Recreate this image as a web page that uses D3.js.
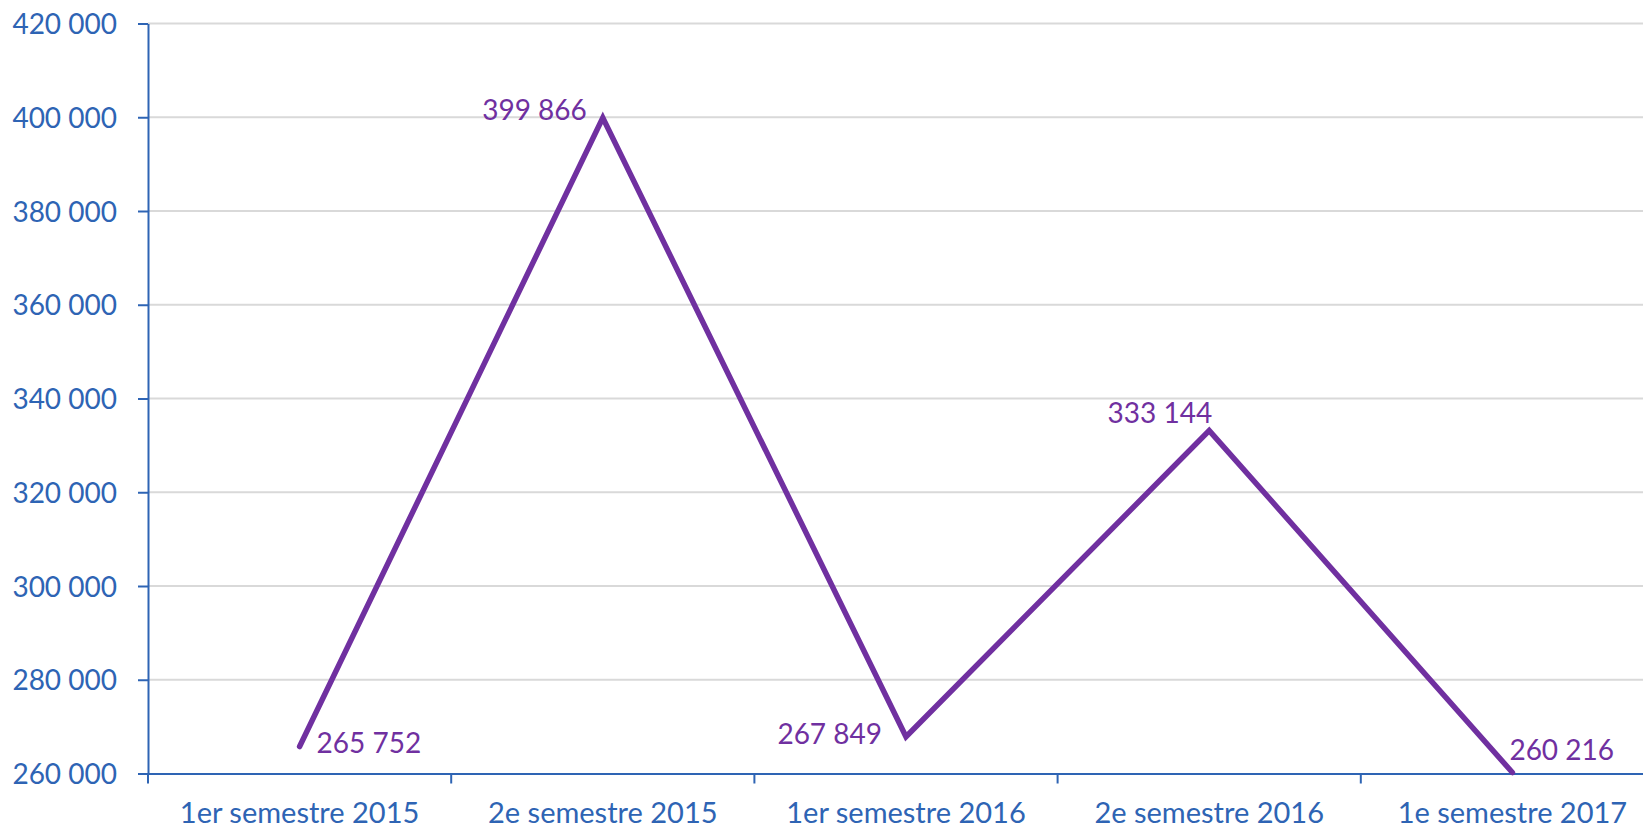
<!DOCTYPE html>
<html>
<head>
<meta charset="utf-8">
<script src="https://cdn.jsdelivr.net/npm/d3@7"></script>
<style>
  html, body { margin: 0; padding: 0; background: #fff; overflow: hidden; }
  svg { display: block; }
  text { font-family: Lato, "Open Sans", sans-serif; }
</style>
</head>
<body>
<svg id="chart" width="1643" height="827"></svg>
<script>
const categories = ["1er semestre 2015", "2e semestre 2015", "1er semestre 2016", "2e semestre 2016", "1e semestre 2017"];
const values = [265752, 399866, 267849, 333144, 260216];
const yTicks = [260000, 280000, 300000, 320000, 340000, 360000, 380000, 400000, 420000];

const svg = d3.select("#chart");
const mLeft = 148, mRight = 1664, mTop = 23.5, mBottom = 773.5;
const blue = "#2E64B4", purple = "#7030A0", grid = "#D9D9D9";
const fs = 28;

const x = d3.scaleBand().domain(categories).range([mLeft, mRight]).padding(0);
const y = d3.scaleLinear().domain([yTicks[0], yTicks[yTicks.length - 1]]).range([mBottom, mTop]);
const fmt = d => d3.format(",")(d).replace(/,/g, " ");

// gridlines
svg.append("g").selectAll("line").data(yTicks.slice(1)).join("line")
  .attr("x1", mLeft).attr("x2", mRight)
  .attr("y1", d => y(d)).attr("y2", d => y(d))
  .attr("stroke", grid).attr("stroke-width", 2);

// y axis
const ya = svg.append("g").attr("transform", `translate(${mLeft},0)`)
  .call(d3.axisLeft(y).tickValues(yTicks).tickFormat(fmt).tickSize(10).tickPadding(21).tickSizeOuter(0));
ya.select(".domain").attr("stroke", blue).attr("stroke-width", 2);
ya.selectAll(".tick line").attr("stroke", blue).attr("stroke-width", 2);
ya.selectAll(".tick text").attr("fill", blue).attr("font-size", fs).attr("font-family", "Lato, 'Open Sans', sans-serif").attr("dy", "0.36em");

// x axis
const xa = svg.append("g").attr("transform", `translate(0,${mBottom})`)
  .call(d3.axisBottom(x).tickSize(0).tickPadding(0).tickSizeOuter(0));
xa.select(".domain").attr("stroke", blue).attr("stroke-width", 2);
xa.selectAll(".tick text").attr("fill", blue).attr("font-size", 29).attr("font-family", "Lato, 'Open Sans', sans-serif")
  .attr("y", 49).attr("dy", 0);
xa.append("g").selectAll("line").data(categories).join("line")
  .attr("x1", d => x(d)).attr("x2", d => x(d))
  .attr("y1", 0).attr("y2", 10)
  .attr("stroke", blue).attr("stroke-width", 2);

// line
const cx = d => x(d) + x.bandwidth() / 2;
const line = d3.line().x((d, i) => cx(categories[i])).y(d => y(d));
svg.append("path").datum(values)
  .attr("d", line)
  .attr("fill", "none").attr("stroke", purple).attr("stroke-width", 5.5)
  .attr("stroke-linejoin", "miter").attr("stroke-linecap", "round");

// data labels
const place = [
  { anchor: "start", dx: 17, dy: 6 },
  { anchor: "end", dx: -16, dy: 2 },
  { anchor: "end", dx: -24, dy: 7 },
  { anchor: "end", dx: 3, dy: -8 },
  { anchor: "start", dx: -3, dy: -12 }
];
svg.append("g").selectAll("text").data(values).join("text")
  .attr("x", (d, i) => cx(categories[i]) + place[i].dx)
  .attr("y", (d, i) => y(d) + place[i].dy)
  .attr("text-anchor", (d, i) => place[i].anchor)
  .attr("fill", purple).attr("font-size", fs)
  .text(fmt);
</script>
</body>
</html>
